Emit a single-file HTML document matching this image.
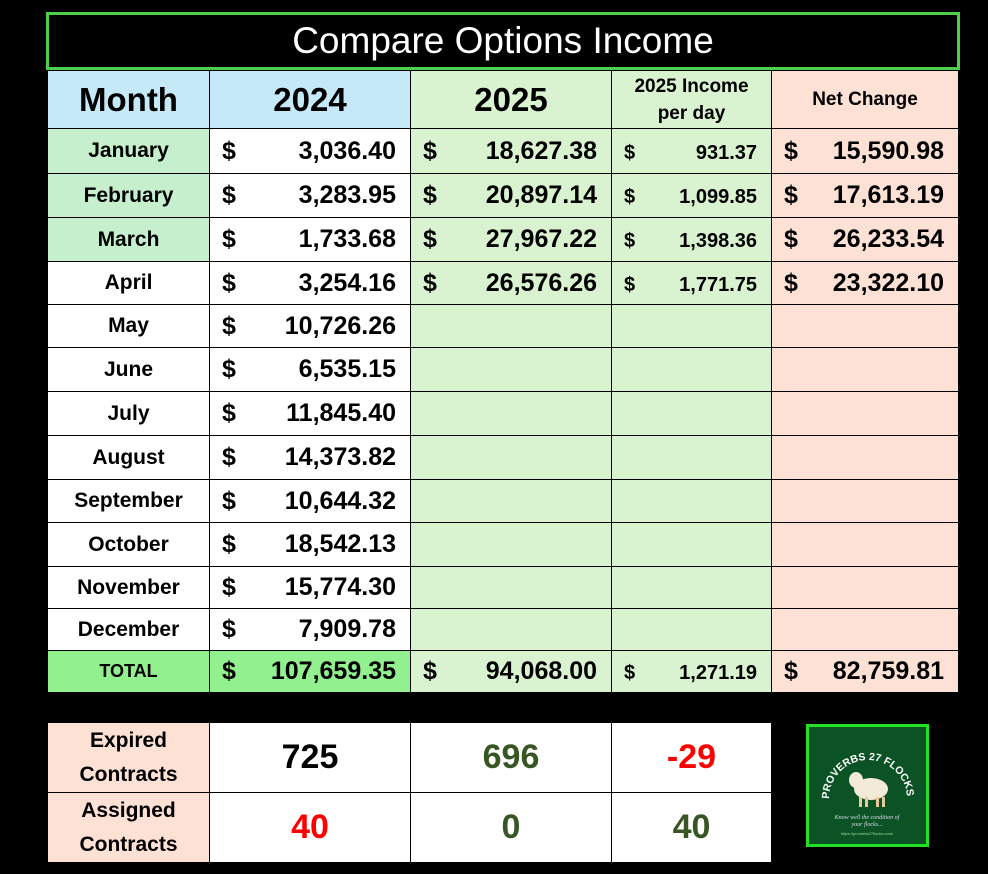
<!DOCTYPE html>
<html><head><style>
html,body{margin:0;padding:0;background:#000;width:988px;height:874px;overflow:hidden;font-family:"Liberation Sans",Arial,sans-serif;}
.title{position:absolute;left:46px;top:12px;width:908px;height:52px;border:3px solid #4ccf4c;background:#000;color:#fff;font-size:37px;text-align:center;line-height:52px;}
table{position:absolute;border-collapse:collapse;table-layout:fixed;}
td{border:1.5px solid #000;padding:0;font-weight:bold;color:#000;overflow:hidden;white-space:nowrap;}
.m{text-align:center;font-size:21px;}
.v{font-size:25px;}
.v span,.p span{float:left;padding-left:12px;}
.v b,.p b{float:right;padding-right:14px;}
.p{font-size:20px;padding-top:4px;}
.bl{background:#c6e9f8}.gr{background:#d9f2d0}.mg{background:#c6efce}.pk{background:#fce1d4}.w{background:#fff}.tg{background:#92f08f}
.h{text-align:center;font-size:33px;}
.bt td{text-align:center;font-size:34px;}
</style></head><body>
<div class="title">Compare Options Income</div>
<table style="left:47px;top:70px;width:911px;">
<colgroup><col style="width:162px"><col style="width:201px"><col style="width:201px"><col style="width:160px"><col style="width:187px"></colgroup>
<tr style="height:58px"><td class="bl h">Month</td><td class="bl h">2024</td><td class="gr h">2025</td><td class="gr" style="text-align:center;font-size:19px;line-height:27px">2025 Income<br>per day</td><td class="pk" style="text-align:center;font-size:19px">Net Change</td></tr>
<tr style="height:45px"><td class="m mg">January</td><td class="v w"><span>$</span><b>3,036.40</b></td><td class="v gr"><span>$</span><b>18,627.38</b></td><td class="p gr"><span>$</span><b>931.37</b></td><td class="v pk"><span>$</span><b>15,590.98</b></td></tr>
<tr style="height:44px"><td class="m mg">February</td><td class="v w"><span>$</span><b>3,283.95</b></td><td class="v gr"><span>$</span><b>20,897.14</b></td><td class="p gr"><span>$</span><b>1,099.85</b></td><td class="v pk"><span>$</span><b>17,613.19</b></td></tr>
<tr style="height:44px"><td class="m mg">March</td><td class="v w"><span>$</span><b>1,733.68</b></td><td class="v gr"><span>$</span><b>27,967.22</b></td><td class="p gr"><span>$</span><b>1,398.36</b></td><td class="v pk"><span>$</span><b>26,233.54</b></td></tr>
<tr style="height:43px"><td class="m w">April</td><td class="v w"><span>$</span><b>3,254.16</b></td><td class="v gr"><span>$</span><b>26,576.26</b></td><td class="p gr"><span>$</span><b>1,771.75</b></td><td class="v pk"><span>$</span><b>23,322.10</b></td></tr>
<tr style="height:43px"><td class="m w">May</td><td class="v w"><span>$</span><b>10,726.26</b></td><td class="gr"></td><td class="gr"></td><td class="pk"></td></tr>
<tr style="height:44px"><td class="m w">June</td><td class="v w"><span>$</span><b>6,535.15</b></td><td class="gr"></td><td class="gr"></td><td class="pk"></td></tr>
<tr style="height:44px"><td class="m w">July</td><td class="v w"><span>$</span><b>11,845.40</b></td><td class="gr"></td><td class="gr"></td><td class="pk"></td></tr>
<tr style="height:44px"><td class="m w">August</td><td class="v w"><span>$</span><b>14,373.82</b></td><td class="gr"></td><td class="gr"></td><td class="pk"></td></tr>
<tr style="height:43px"><td class="m w">September</td><td class="v w"><span>$</span><b>10,644.32</b></td><td class="gr"></td><td class="gr"></td><td class="pk"></td></tr>
<tr style="height:44px"><td class="m w">October</td><td class="v w"><span>$</span><b>18,542.13</b></td><td class="gr"></td><td class="gr"></td><td class="pk"></td></tr>
<tr style="height:42px"><td class="m w">November</td><td class="v w"><span>$</span><b>15,774.30</b></td><td class="gr"></td><td class="gr"></td><td class="pk"></td></tr>
<tr style="height:42px"><td class="m w">December</td><td class="v w"><span>$</span><b>7,909.78</b></td><td class="gr"></td><td class="gr"></td><td class="pk"></td></tr>
<tr style="height:42px"><td class="m tg" style="font-size:18px">TOTAL</td><td class="v tg"><span>$</span><b>107,659.35</b></td><td class="v gr"><span>$</span><b>94,068.00</b></td><td class="p gr"><span>$</span><b>1,271.19</b></td><td class="v pk"><span>$</span><b>82,759.81</b></td></tr>
</table>
<table class="bt" style="left:47px;top:722px;width:724px;">
<colgroup><col style="width:162px"><col style="width:201px"><col style="width:201px"><col style="width:160px"></colgroup>
<tr style="height:70px"><td class="pk" style="font-size:21px;line-height:34px">Expired<br>Contracts</td><td class="w">725</td><td class="w" style="color:#375623">696</td><td class="w" style="color:#f00">-29</td></tr>
<tr style="height:70px"><td class="pk" style="font-size:21px;line-height:34px">Assigned<br>Contracts</td><td class="w" style="color:#f00">40</td><td class="w" style="color:#375623">0</td><td class="w" style="color:#375623">40</td></tr>
</table>
<div style="position:absolute;left:806px;top:724px;width:117px;height:117px;border:3px solid #22e022;background:#0b5225;">
<svg width="117" height="117" viewBox="0 0 117 117">
<defs><path id="arc" d="M20,72 A39,39 0 1,1 98,72"/></defs>
<text font-family="Liberation Sans" font-weight="bold" font-size="10.5" fill="#fff"><textPath href="#arc">PROVERBS 27 FLOCKS</textPath></text>
<ellipse cx="62" cy="62" rx="17" ry="11" fill="#f3ead8"/>
<ellipse cx="47" cy="53" rx="7" ry="8" fill="#f3ead8"/>
<rect x="50" y="70" width="3" height="10" fill="#e9c9a0"/><rect x="56" y="70" width="3" height="10" fill="#e9c9a0"/><rect x="67" y="70" width="3" height="10" fill="#e9c9a0"/><rect x="73" y="70" width="3" height="10" fill="#e9c9a0"/>
<text x="58" y="92" font-family="Liberation Serif" font-style="italic" font-size="6" fill="#dde" text-anchor="middle">Know well the condition of</text>
<text x="58" y="99" font-family="Liberation Serif" font-style="italic" font-size="6" fill="#dde" text-anchor="middle">your flocks...</text>
<text x="58" y="108" font-family="Liberation Sans" font-size="4" fill="#9d9" text-anchor="middle">https://proverbs27flocks.com/</text>
</svg></div>
</body></html>
